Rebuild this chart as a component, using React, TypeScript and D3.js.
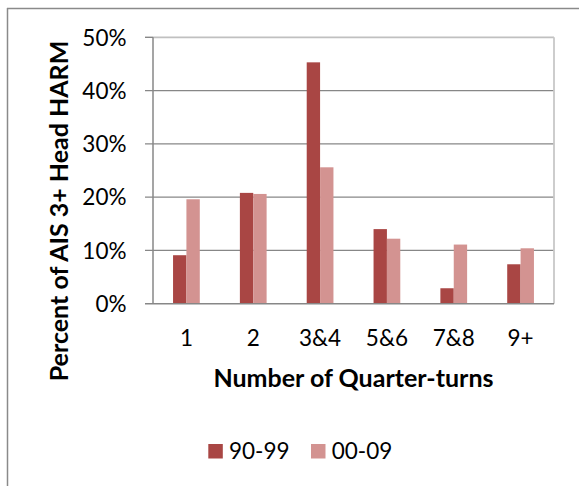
import React from "react";
import * as d3 from "d3";

const categories = ["1", "2", "3&4", "5&6", "7&8", "9+"];
const seriesNames = ["90-99", "00-09"];
const values9099 = [9.1, 20.8, 45.3, 14.0, 2.9, 7.4];
const values0009 = [19.6, 20.6, 25.6, 12.2, 11.1, 10.4];
const yTicks = [0, 10, 20, 30, 40, 50];
const colors = ["#A94644", "#D39391"];

const W = 579;
const H = 486;
const plotL = 153;
const plotR = 554;
const plotT = 37.3;
const plotB = 303.7;
const FONT = "Lato, 'Open Sans', sans-serif";
const FS = 22.5;
const FSB = 25;

export default function App() {
  const x0 = d3.scaleBand<string>().domain(categories).range([plotL, plotR]).paddingInner(0).paddingOuter(0);
  const groupW = x0.bandwidth() * 0.4;
  const x1 = d3.scaleBand<string>().domain(seriesNames).range([0, groupW]).padding(0);
  const y = d3.scaleLinear().domain([0, 50]).range([plotB, plotT]);
  const seriesVals = [values9099, values0009];

  return (
    <svg width={W} height={H} style={{ position: "absolute", left: 0, top: 0 }} fontFamily={FONT}>
      <rect x={0} y={0} width={W} height={H} fill="#fff" />
      {/* outer frame */}
      <line x1={7.5} y1={8} x2={7.5} y2={H} stroke="#8a8a8a" strokeWidth={1.5} />
      <line x1={7} y1={8.5} x2={W} y2={8.5} stroke="#8a8a8a" strokeWidth={1.5} />

      {/* gridlines */}
      {yTicks.filter((t) => t > 0 && t < 50).map((t) => (
        <line key={t} x1={145} x2={plotR} y1={y(t)} y2={y(t)} stroke="#878787" strokeWidth={1.4} />
      ))}
      {/* plot border top & right */}
      <line x1={plotL} x2={plotR} y1={plotT} y2={plotT} stroke="#c0c0c0" strokeWidth={1.8} />
      <line x1={plotR} x2={plotR} y1={plotT} y2={plotB} stroke="#c8c8c8" strokeWidth={1.8} />
      <line x1={145} x2={plotL} y1={plotT} y2={plotT} stroke="#878787" strokeWidth={1.4} />

      {/* bars */}
      {categories.map((c, i) => (
        <g key={c} transform={`translate(${(x0(c) as number) + (x0.bandwidth() - groupW) / 2},0)`}>
          {seriesNames.map((s, j) => (
            <rect
              key={s}
              x={x1(s) as number}
              y={y(seriesVals[j][i])}
              width={x1.bandwidth()}
              height={plotB - y(seriesVals[j][i])}
              fill={colors[j]}
            />
          ))}
        </g>
      ))}

      {/* axes */}
      <line x1={plotL} x2={plotL} y1={plotT} y2={plotB} stroke="#878787" strokeWidth={1.5} />
      <line x1={145} x2={plotR} y1={plotB} y2={plotB} stroke="#878787" strokeWidth={1.5} />

      {/* y tick labels */}
      {yTicks.map((t) => (
        <text key={t} x={126.5} y={y(t) + 8.2} textAnchor="end" fontSize={FS} fill="#000">
          {`${t}%`}
        </text>
      ))}

      {/* x tick labels */}
      {categories.map((c) => (
        <text key={c} x={(x0(c) as number) + x0.bandwidth() / 2} y={345.5} textAnchor="middle" fontSize={FS} fill="#000">
          {c}
        </text>
      ))}

      {/* axis titles */}
      <text x={(plotL + plotR) / 2} y={386.7} textAnchor="middle" fontSize={FSB} fontWeight="bold" fill="#000">
        Number of Quarter-turns
      </text>
      <text transform="translate(67.6,211) rotate(-90)" textAnchor="middle" fontSize={FSB} fontWeight="bold" fill="#000">
        Percent of AIS 3+ Head HARM
      </text>

      {/* legend */}
      {seriesNames.map((s, j) => {
        const lx = [208.3, 311][j];
        return (
          <g key={s}>
            <rect x={lx} y={444} width={14.5} height={14.5} fill={colors[j]} />
            <text x={lx + 20.7} y={459} fontSize={FS} fill="#000">
              {s}
            </text>
          </g>
        );
      })}
    </svg>
  );
}
